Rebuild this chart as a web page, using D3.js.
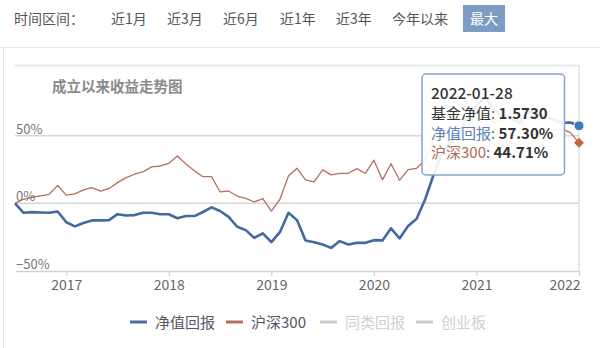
<!DOCTYPE html>
<html><head><meta charset="utf-8">
<script src="https://cdn.jsdelivr.net/npm/d3@7/dist/d3.min.js"></script>
<style>
html,body{margin:0;padding:0;background:#fff;}
svg{display:block;font-family:"Noto Sans CJK SC","Noto Sans",sans-serif;}
</style></head><body>
<svg id="c" width="600" height="348"></svg>
<script>
const months = [
"2016-07","2016-08","2016-09","2016-10","2016-11","2016-12",
"2017-01","2017-02","2017-03","2017-04","2017-05","2017-06","2017-07","2017-08","2017-09","2017-10","2017-11","2017-12",
"2018-01","2018-02","2018-03","2018-04","2018-05","2018-06","2018-07","2018-08","2018-09","2018-10","2018-11","2018-12",
"2019-01","2019-02","2019-03","2019-04","2019-05","2019-06","2019-07","2019-08","2019-09","2019-10","2019-11","2019-12",
"2020-01","2020-02","2020-03","2020-04","2020-05","2020-06","2020-07","2020-08","2020-09","2020-10","2020-11","2020-12",
"2021-01","2021-02","2021-03","2021-04","2021-05","2021-06","2021-07","2021-08","2021-09","2021-10","2021-11","2021-12",
"2022-01"];
// 净值回报 (%)
const fundReturn = [
0,-7,-6.5,-6.8,-7,-6,
-14,-17,-14.5,-12.6,-12.6,-12.4,-8,-9,-8.7,-7,-7,-8.1,
-8.1,-11,-9.4,-9.4,-6.4,-3,-5.7,-10,-17.3,-19.8,-25.5,-22.2,
-28.7,-21.3,-7,-12.4,-27.4,-28.7,-30.4,-32.9,-27.9,-30.4,-29.2,-29.2,
-27.2,-27.4,-18.5,-25.9,-16.8,-11.4,3,21.5,38,45,52,64,
72,78,70,64,63,59.5,67,68,64,62,59.5,59.7,
57.3];
// 沪深300 (%)
const csi300 = [
0,3,4.5,5.5,6.7,13.3,
6,7,10,11.6,9,11,15.3,19,21.5,23.4,26.9,27.6,
29.6,35,29,24,19.7,19.7,8.4,9.1,5.4,3.7,1,3.4,
-5.7,3,20.2,25.9,17.3,15.8,24.7,21,22.2,22.2,25.6,22.2,
31.9,17.3,29.3,17,24.9,25.9,32,47,51,44,48,56,
70,72,60,61,67,64,52,51,53,54,55,52.3,
44.71];
const yTicks = [-50, 0, 50];
const ranges = ["近1月","近3月","近6月","近1年","近3年","今年以来","最大"];
const legendItems = [
  {name:"净值回报", color:"#4a6fa0", active:true},
  {name:"沪深300", color:"#b5705c", active:true},
  {name:"同类回报", color:"#cccccc", active:false},
  {name:"创业板", color:"#cccccc", active:false}];
const tip = {date:"2022-01-28", nav:"1.5730", fund:"57.30%", idx:"44.71%"};

const svg = d3.select("#c");
const BLUE = "#44699f", RED = "#b5705c";

// frame lines
svg.append("line").attr("x1",0).attr("x2",600).attr("y1",47.5).attr("y2",47.5).attr("stroke","#e6e6e6");
svg.append("line").attr("x1",3.5).attr("x2",3.5).attr("y1",47).attr("y2",348).attr("stroke","#e6e6e6");

// toolbar
svg.append("text").attr("x",14).attr("y",23.5).attr("font-size",14).attr("fill","#555").text("时间区间：");
const btnX = [111,167,223,280,336,392,472];
ranges.forEach((r,i)=>{
  if(r==="最大"){
    svg.append("rect").attr("x",463).attr("y",5).attr("width",42).attr("height",27).attr("fill","#7d9cc4");
    svg.append("text").attr("x",484).attr("y",23.5).attr("text-anchor","middle").attr("font-size",14).attr("fill","#fff").text(r);
  } else {
    svg.append("text").attr("x",btnX[i]).attr("y",23.5).attr("font-size",14).attr("fill","#555").text(r);
  }
});

const x = d3.scalePoint().domain(months).range([15,579]);
const y = d3.scaleLinear().domain([-50,100]).range([271,68]);

// plot border
svg.append("line").attr("x1",15).attr("x2",579).attr("y1",65.5).attr("y2",65.5).attr("stroke","#e3e3e3").attr("stroke-width",1.5);
svg.append("line").attr("x1",579).attr("x2",579).attr("y1",65).attr("y2",271).attr("stroke","#e3e3e3").attr("stroke-width",1.5);

// grid
yTicks.filter(t=>t!==-50).forEach(t=>{
  svg.append("line").attr("x1",15).attr("x2",579).attr("y1",y(t)).attr("y2",y(t)).attr("stroke","#d6d6d6").attr("stroke-width",1.5);
});
yTicks.forEach(t=>{
  svg.append("text").attr("x",16).attr("y",y(t)-2).attr("font-size",13).attr("fill","#777").text((t<0?"−":"")+Math.abs(t)+"%");
});

// x axis
const yearTicks = months.filter(m=>m.endsWith("-01"));
const xAxis = d3.axisBottom(x).tickValues(yearTicks).tickFormat(m=>m.slice(0,4)).tickSize(5).tickSizeOuter(0).tickPadding(4);
const gx = svg.append("g").attr("transform",`translate(0,${y(-50)})`).call(xAxis);
gx.select(".domain").attr("stroke","#c9d2de").attr("stroke-width",1.5);
gx.selectAll(".tick line").attr("stroke","#c9d2de").attr("stroke-width",1.2);
gx.selectAll(".tick text").attr("font-size",14).attr("fill","#666").attr("font-family","'Noto Sans CJK SC',sans-serif");
gx.selectAll(".tick").filter(d=>d===months[months.length-1]).select("text").attr("text-anchor","end").attr("dx",1);

// title
svg.append("text").attr("x",52).attr("y",92).attr("font-size",14.5).attr("font-weight","bold").attr("fill","#8a8a8a").text("成立以来收益走势图");

// lines
const line = d3.line().x((d,i)=>x(months[i])).y(d=>y(d));
svg.append("path").datum(csi300).attr("d",line).attr("fill","none").attr("stroke",RED).attr("stroke-width",1.3).attr("stroke-linejoin","round");
svg.append("path").datum(fundReturn).attr("d",line).attr("fill","none").attr("stroke",BLUE).attr("stroke-width",2.6).attr("stroke-linejoin","round");

// end markers
const last = months.length-1;
svg.append("path").attr("d",d3.symbol(d3.symbolSquare,50)())
  .attr("transform",`translate(${x(months[last])},${y(csi300[last])}) rotate(45)`).attr("fill","#c4674c");
svg.append("circle").attr("cx",x(months[last])).attr("cy",y(fundReturn[last])).attr("r",5).attr("fill","#4078bd").attr("stroke","#fff").attr("stroke-width",1);

// tooltip
const tg = svg.append("g");
tg.append("rect").attr("x",422).attr("y",74).attr("width",142.5).attr("height",101).attr("rx",4)
  .attr("fill","#fff").attr("fill-opacity",0.9).attr("stroke","#86a4c9").attr("stroke-width",1.5);
tg.append("text").attr("x",431).attr("y",99).attr("font-size",15.5).attr("font-weight",500).attr("fill","#333").text(tip.date);
const rows = [
  {label:"基金净值", color:"#333", val:tip.nav, y:119},
  {label:"净值回报", color:"#5a7fb2", val:tip.fund, y:138.5},
  {label:"沪深300", color:"#b06a55", val:tip.idx, y:158}];
rows.forEach(r=>{
  const t = tg.append("text").attr("x",431).attr("y",r.y).attr("font-size",15);
  t.append("tspan").attr("fill",r.color).text(r.label);
  t.append("tspan").attr("fill","#666").text(": ");
  t.append("tspan").attr("fill","#333").attr("font-weight","bold").text(r.val);
});

// legend
const lx = [130,226,320,416];
legendItems.forEach((d,i)=>{
  svg.append("line").attr("x1",lx[i]).attr("x2",lx[i]+17).attr("y1",322).attr("y2",322).attr("stroke",d.color).attr("stroke-width",3);
  svg.append("text").attr("x",lx[i]+25).attr("y",327.5).attr("font-size",15).attr("fill",d.active?"#556":"#cfcfcf").text(d.name);
});
</script>
</body></html>
